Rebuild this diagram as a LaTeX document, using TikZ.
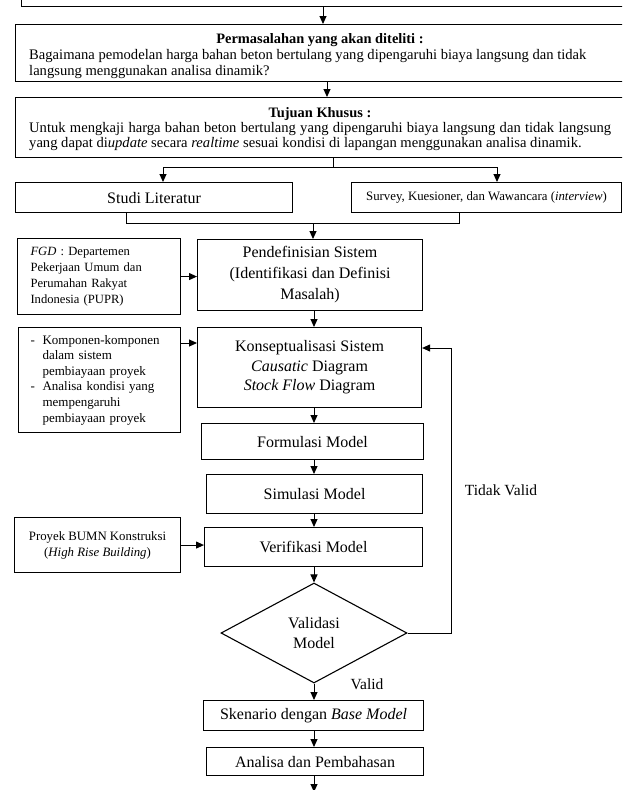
\documentclass[tikz,border=0pt]{standalone}
\usepackage{fontspec}
\setmainfont{Liberation Serif}
\usetikzlibrary{shapes.geometric,arrows.meta}
\begin{document}
\begin{tikzpicture}[x=1pt,y=-1pt,
  box/.style={draw,line width=1.1pt,inner sep=0pt,align=center},
  arr/.style={line width=1pt,-{Triangle[length=8pt,width=7pt]}},
  conn/.style={line width=1pt},
  fbig/.style={font=\fontsize{16}{21}\selectfont},
  fmid/.style={font=\fontsize{14.6}{16}\selectfont},
  fsmall/.style={font=\fontsize{12.8}{16}\selectfont},
  txt/.style={inner sep=0pt},
  hdr/.style={inner sep=0pt,font=\fontsize{14.4}{16}\selectfont\bfseries}
]
\useasboundingbox (0,0) rectangle (622,790);
\clip (0,0) rectangle (622,790);

% guide coordinates
\coordinate (ax1) at (323,0);
\coordinate (ax2) at (327,0);
\coordinate (ax3) at (333,0);
\coordinate (axL) at (163,0);
\coordinate (axR) at (497,0);
\coordinate (bL) at (126,0);
\coordinate (bR) at (459,0);
\coordinate (mc) at (314,0);
\coordinate (split) at (333,167);
\coordinate (join) at (313,223);
\coordinate (ky) at (0,343);
\coordinate (fb) at (451,348);

% top (cut) box
\node[box,minimum width=610,minimum height=30,anchor=south west] (top) at (21,7) {};

% Permasalahan
\node[box,minimum width=610,minimum height=57,anchor=north west] (b2) at (15,24) {};
\node[hdr,anchor=base] (b2h) at (320,43) {Permasalahan yang akan diteliti :};
\node[txt,fmid,anchor=base west] (b2a) at (29,59) {Bagaimana pemodelan harga bahan beton bertulang yang dipengaruhi biaya langsung dan tidak};
\node[txt,fmid,anchor=base west] (b2b) at (29,75.5) {langsung menggunakan analisa dinamik?};

% Tujuan Khusus
\node[box,minimum width=610,minimum height=60,anchor=north west] (b3) at (15,97) {};
\node[hdr,anchor=base] (b3h) at (320,117) {Tujuan Khusus :};
\node[txt,fmid,anchor=base west] (b3a) at (29,132) {\makebox[582pt][s]{Untuk mengkaji harga bahan beton bertulang yang dipengaruhi biaya langsung dan tidak langsung}};
\node[txt,fmid,anchor=base west] (b3b) at (29,147.5) {yang dapat di\textit{update} secara \textit{realtime} sesuai kondisi di lapangan menggunakan analisa dinamik.};

% Studi / Survey
\node[box,fbig,minimum width=277,minimum height=30,anchor=north west] (studi) at (15,182) {Studi Literatur};
\node[box,fsmall,minimum width=270,minimum height=30,anchor=north west] (survey) at (351,182) {Survey, Kuesioner, dan Wawancara (\textit{interview})};

% left column
\node[box,font=\fontsize{12.6}{16}\selectfont,text width=137pt,align=left,minimum width=163,minimum height=76,anchor=north west] (fgd) at (17,238) {\textit{FGD} : Departemen\\Pekerjaan Umum dan\\Perumahan Rakyat\\Indonesia (PUPR)};
\node[box,font=\fontsize{13}{15.6}\selectfont,text width=138pt,align=left,minimum width=162,minimum height=105,anchor=north west] (komp) at (18,327) {\makebox[12pt][l]{-}Komponen-komponen\\\hspace*{12pt}dalam sistem\\\hspace*{12pt}pembiayaan proyek\\\makebox[12pt][l]{-}Analisa kondisi yang\\\hspace*{12pt}mempengaruhi\\\hspace*{12pt}pembiayaan proyek};
\node[box,fsmall,minimum width=166,minimum height=55,anchor=north west] (proyek) at (14,517) {Proyek BUMN Konstruksi\\(\textit{High Rise Building})};

% main column
\node[box,fbig,minimum width=225,minimum height=71,anchor=north west] (pendef) at (197,239) {Pendefinisian Sistem\\(Identifikasi dan Definisi\\Masalah)};
\node[box,font=\fontsize{16}{19.5}\selectfont,minimum width=224,minimum height=80,anchor=north west] (konsep) at (197,327) {Konseptualisasi Sistem\\\textit{Causatic} Diagram\\\textit{Stock Flow} Diagram};
\node[box,fbig,minimum width=222,minimum height=36,anchor=north west] (formul) at (201,423) {Formulasi Model};
\node[box,fbig,minimum width=216,minimum height=39,anchor=north west] (simul) at (206,474) {Simulasi Model};
\node[box,fbig,minimum width=218,minimum height=39,anchor=north west] (verif) at (204,527) {Verifikasi Model};
\node[diamond,draw,line width=1.1pt,inner sep=0pt,minimum width=186,minimum height=100,align=center,font=\fontsize{16}{20}\selectfont] (val) at (314,633) {Validasi\\Model};
\node[box,fbig,minimum width=220,minimum height=30,anchor=north west] (sken) at (203,700) {Skenario dengan \textit{Base Model}};
\node[box,fbig,minimum width=217,minimum height=28,anchor=north west] (anal) at (206,747) {Analisa dan Pembahasan};
\coordinate (endc) at (314,792);

% labels
\node[txt,font=\fontsize{15.5}{18}\selectfont] (tv) at (501,490) {Tidak Valid};
\node[txt,font=\fontsize{15.5}{18}\selectfont] (vl) at (367,684) {Valid};

% connectors
\draw[arr] (top.south -| ax1) -- (b2.north -| ax1);
\draw[arr] (b2.south -| ax2) -- (b3.north -| ax2);
\draw[conn] (b3.south -| ax3) -- (split);
\draw[arr] (split) -| (studi.north -| axL);
\draw[arr] (split) -| (survey.north -| axR);
\draw[conn] (studi.south -| bL) |- (join);
\draw[conn] (survey.south -| bR) |- (join);
\draw[arr] (join) -- (pendef.north -| join);
\draw[arr] (fgd.east) -- (fgd.east -| pendef.west);
\draw[arr] (pendef.south -| mc) -- (konsep.north -| mc);
\draw[arr] (komp.east |- ky) -- (konsep.west |- ky);
\draw[arr] (konsep.south -| mc) -- (formul.north -| mc);
\draw[arr] (formul.south -| mc) -- (simul.north -| mc);
\draw[arr] (simul.south -| mc) -- (verif.north -| mc);
\draw[arr] (proyek.east) -- (proyek.east -| verif.west);
\draw[arr] (verif.south -| mc) -- (val.north);
\draw[conn] (val.east) -| (fb);
\draw[arr] (fb) -- (fb -| konsep.east);
\draw[arr] (val.south) -- (sken.north -| mc);
\draw[arr] (sken.south -| mc) -- (anal.north -| mc);
\draw[arr] (anal.south -| mc) -- (endc);
\end{tikzpicture}
\end{document}
